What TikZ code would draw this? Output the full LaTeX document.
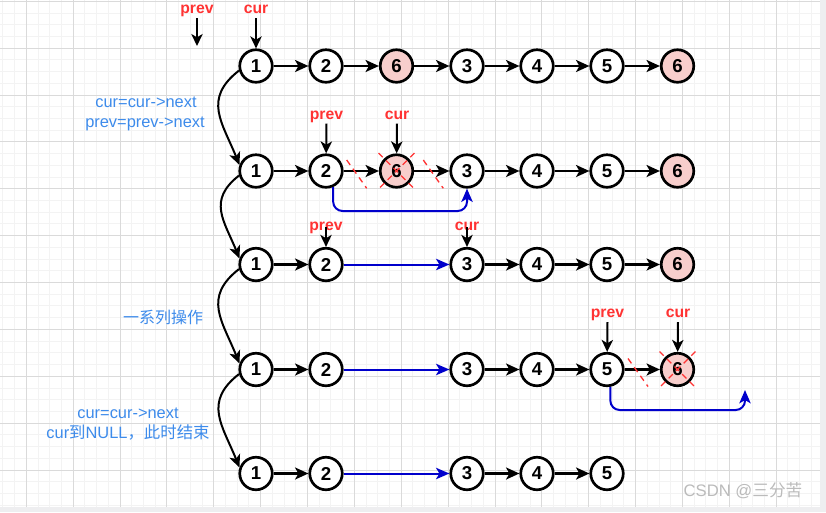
\documentclass[tikz,border=0pt]{standalone}
\usepackage{fontspec}
\setmainfont{Liberation Sans}
\newfontfamily\cjk{Noto Sans CJK SC}
\usetikzlibrary{arrows.meta}
\definecolor{pinkfill}{HTML}{F8CECC}
\definecolor{labelred}{HTML}{FF3333}
\definecolor{noteblue}{HTML}{3D8BEB}
\definecolor{linkblue}{HTML}{0000CC}
\definecolor{minorgrid}{HTML}{F3F3F3}
\definecolor{majorgrid}{HTML}{DADADA}
\definecolor{outside}{HTML}{EEEEF0}
\definecolor{markgray}{HTML}{BBBBBB}
\begin{document}
\begin{tikzpicture}[x=0.75pt, y=-0.75pt,
  lnode/.style={circle, draw=black, line width=2pt, minimum size=24.4pt, inner sep=0pt, fill=white, font=\fontsize{14}{14}\selectfont\bfseries},
  pnode/.style={lnode, fill=pinkfill},
  link/.style={draw=black, line width=1.6pt, -{Stealth[length=10pt,width=9pt,inset=2.5pt]}},
  blink/.style={draw=linkblue, line width=1.5pt, -{Stealth[length=10pt,width=8.5pt,inset=2.5pt]}},
  hop/.style={draw=black, line width=1.5pt, -{Stealth[length=9.5pt,width=8.5pt,inset=2.5pt]}},
  ptr/.style={draw=black, line width=1.5pt, -{Stealth[length=9pt,width=8.5pt,inset=2.5pt]}},
  ptrlbl/.style={text=labelred, font=\fontsize{11.8}{12}\selectfont\bfseries, inner sep=1pt, text height=0.55em, text depth=0.22em, anchor=base},
  note/.style={text=noteblue, font=\fontsize{12.3}{14}\selectfont, inner sep=0pt, anchor=base},
  cross/.style={draw=labelred, line width=1pt, dash pattern=on 4.5pt off 3.5pt}
]
\useasboundingbox (0,0) rectangle (826,512);
% background and grid
\fill[outside] (0,0) rectangle (826,512);
\fill[white] (0,0) rectangle (820,507);
\begin{scope}
  \clip (0,0) rectangle (820,507);
  \foreach \k in {-2,...,68} { \draw[minorgrid, line width=0.75pt] ({26.4+11.715*\k},0) -- ++(0,507); }
  \foreach \k in {0,...,43} { \draw[minorgrid, line width=0.75pt] (0,{1.4+11.715*\k}) -- ++(820,0); }
  \foreach \k in {0,...,16} { \draw[majorgrid, line width=0.75pt] ({26.4+46.86*\k},0) -- ++(0,507); }
  \foreach \k in {0,...,10} { \draw[majorgrid, line width=0.75pt] (0,{1.4+46.86*\k}) -- ++(820,0); }
\end{scope}

% row 1
\node[lnode] (a1) at (256,66) {1};
\node[lnode] (a2) at (326,66) {2};
\node[pnode] (a3) at (396.5,66) {6};
\node[lnode] (a4) at (467,66) {3};
\node[lnode] (a5) at (537,66) {4};
\node[lnode] (a6) at (607,66) {5};
\node[pnode] (a7) at (677.5,66) {6};
% row 2
\node[lnode] (b1) at (256,171) {1};
\node[lnode] (b2) at (326,171) {2};
\node[pnode] (b3) at (396.5,171) {6};
\node[lnode] (b4) at (467,171) {3};
\node[lnode] (b5) at (537,171) {4};
\node[lnode] (b6) at (607,171) {5};
\node[pnode] (b7) at (677.5,171) {6};
% row 3
\node[lnode] (c1) at (256,264.5) {1};
\node[lnode] (c2) at (326,264.5) {2};
\node[lnode] (c4) at (467,264.5) {3};
\node[lnode] (c5) at (537,264.5) {4};
\node[lnode] (c6) at (607,264.5) {5};
\node[pnode] (c7) at (677.5,264.5) {6};
% row 4
\node[lnode] (d1) at (256,369.5) {1};
\node[lnode] (d2) at (326,369.5) {2};
\node[lnode] (d4) at (467,369.5) {3};
\node[lnode] (d5) at (537,369.5) {4};
\node[lnode] (d6) at (607,369.5) {5};
\node[pnode] (d7) at (677.5,369.5) {6};
% row 5
\node[lnode] (e1) at (256,473.5) {1};
\node[lnode] (e2) at (326,473.5) {2};
\node[lnode] (e4) at (467,473.5) {3};
\node[lnode] (e5) at (537,473.5) {4};
\node[lnode] (e6) at (607,473.5) {5};

% black links
\foreach \u/\v in {a1/a2,a2/a3,a3/a4,a4/a5,a5/a6,a6/a7,
                   b1/b2,b2/b3,b3/b4,b4/b5,b5/b6,b6/b7,
                   c1/c2,c4/c5,c5/c6,c6/c7,
                   d1/d2,d4/d5,d5/d6,d6/d7,
                   e1/e2,e4/e5,e5/e6}
  \draw[link] (\u) -- (\v);

% blue links
\coordinate (bturn) at (467,211);
\draw[blink, rounded corners=7pt] (b2.-66) |- (bturn) -- (b4.south);
\draw[blink] (c2) -- (c4);
\draw[blink] (d2) -- (d4);
\draw[blink] (e2) -- (e4);
\coordinate (dturn) at (745,410);
\coordinate (dend) at (745,390);
\draw[blink, rounded corners=7pt] (d6.-79) |- (dturn) -- (dend);

% step curves on the left
\foreach \u/\v in {a1/b1,b1/c1,c1/d1,d1/e1}
  \draw[hop] (\u.195) to[out=218,in=112,looseness=1.25] (\v.160);

% pointer labels
\node[ptrlbl] (p0) at (197,13.5) {prev};
\coordinate (p0end) at (197,46);
\draw[ptr] (p0.south) -- (p0end);
\node[ptrlbl] (q0) at (256,13.5) {cur};
\draw[ptr] (q0.south) -- (a1);

\node[ptrlbl] (p1) at (326.5,119) {prev};
\draw[ptr] (p1.south) -- (b2);
\node[ptrlbl] (q1) at (397,119) {cur};
\draw[ptr] (q1.south) -- (b3);

\node[ptrlbl] (p2) at (326,230) {prev};
\draw[ptr] ([yshift=2pt]p2.base) -- (c2);
\node[ptrlbl] (q2) at (467,230) {cur};
\draw[ptr] ([yshift=2pt]q2.base) -- (c4);

\node[ptrlbl] (p3) at (607.5,317.5) {prev};
\draw[ptr] (p3.south) -- (d6);
\node[ptrlbl] (q3) at (678,317.5) {cur};
\draw[ptr] (q3.south) -- (d7);

% red dashed crosses
\draw[cross] (346.7,160) -- (366.7,188.3);
\draw[cross] (378.5,153) -- (414.5,189);
\draw[cross] (414.5,153) -- (378.5,189);
\draw[cross] (423.3,160) -- (443.3,188.3);
\draw[cross] (628,358.5) -- (648,386.5);
\draw[cross] (659.5,351.5) -- (695.5,387.5);
\draw[cross] (695.5,351.5) -- (659.5,387.5);

% notes
\node[note] (n1) at (146,107.5) {cur=cur->next};
\node[note] (n2) at (145,127) {prev=prev->next};
\node[note, font=\cjk\fontsize{12}{14}\selectfont] (n3) at (163,323.5) {一系列操作};
\node[note] (n4) at (128,418.5) {cur=cur->next};
\node[note] (n5) at (128,438.5) {cur{\cjk 到}NULL{\cjk ，此时结束}};

% watermark
\node[anchor=base, inner sep=0pt, text=markgray, font=\fontsize{12.5}{14}\selectfont] (wm) at (743,496.5) {CSDN @{\cjk 三分苦}};
\end{tikzpicture}
\end{document}
